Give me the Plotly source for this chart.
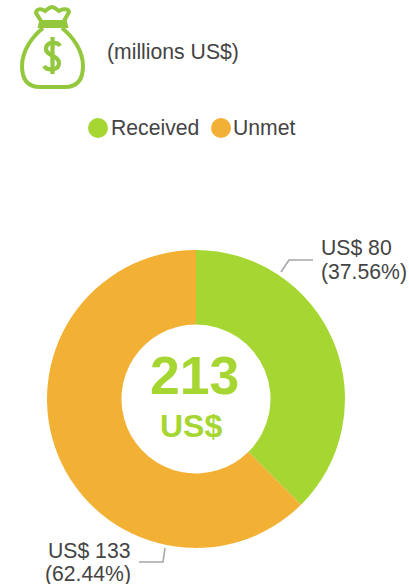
import plotly.graph_objects as go

W, H = 409, 584
categories = ["Received", "Unmet"]
values = [80, 133]
percents = ["37.56%", "62.44%"]
colors = ["#a5d631", "#f2b134"]
total = 213
subtitle = "(millions US$)"
unit = "US$"
TEXT = "#444444"
ICON = "#93c83e"
FONT = "Liberation Sans, Arial, sans-serif"


def px(x):
    return x / W


def py(y):
    return 1 - y / H


def path(d):
    out = []
    for tok in d.split():
        if "," in tok:
            a, b = tok.split(",")
            out.append(f"{px(float(a)):.5f},{py(float(b)):.5f}")
        else:
            out.append(tok)
    return " ".join(out)


fig = go.Figure(go.Pie(
    labels=categories, values=values, hole=0.5, sort=False, direction="clockwise",
    rotation=0, marker=dict(colors=colors, line=dict(width=0)),
    textinfo="none", hoverinfo="label+value", showlegend=False,
    domain=dict(x=[px(47), px(345)], y=[py(548), py(250)]),
))


def text(x, y, s, size=21.2, color=TEXT, anchor="left", bold=False):
    fig.add_annotation(
        x=px(x), y=py(y), xref="paper", yref="paper", text=f"<b>{s}</b>" if bold else s,
        showarrow=False, xanchor=anchor, yanchor="middle", align=anchor,
        font=dict(family=FONT, size=size, color=color), borderpad=0, borderwidth=0,
    )


def circle(cx, cy, r, color):
    fig.add_shape(type="circle", xref="paper", yref="paper",
                  x0=px(cx - r), x1=px(cx + r), y0=py(cy - r), y1=py(cy + r),
                  fillcolor=color, line=dict(width=0))


def stroke(d, color=ICON, width=4):
    fig.add_shape(type="path", xref="paper", yref="paper", path=path(d),
                  line=dict(color=color, width=width))


# header
text(107, 52, subtitle)
# legend
circle(98, 128, 10, colors[0])
text(111, 127, categories[0])
circle(221, 128, 10, colors[1])
text(233, 127, categories[1])
# centre
text(194, 375, str(total), size=53.5, color=colors[0], anchor="center", bold=True)
text(190.5, 426, unit, size=32, color=colors[0], anchor="center", bold=True)
# value labels
text(321, 248, f"US$ {values[0]}")
text(321, 272, f"({percents[0]})")
text(48, 550, f"US$ {values[1]}")
text(45, 574, f"({percents[1]})")
# leader lines
stroke("M 281,272 L 289,260 L 313,260", "#a6a6a6", 1.6)
stroke("M 165,548 L 163,562 L 139,562", "#a6a6a6", 1.6)
# money bag icon
stroke("M 43,28 C 33,36 22,50 22,66 C 22,80 28,87 40,87 L 65,87 C 77,87 83,80 83,66 "
       "C 83,50 72,36 62,28")
stroke("M 41,22 L 65,22 L 66,26 L 40,26 Z")
stroke("M 41,21 L 36,13 C 36,9 41,8 45,11 C 48,9 49,7 52,7 C 55,7 56,9 59,11 "
       "C 63,8 69,9 69,12 L 64,21")
stroke("M 60,46 C 58,42 47,41 46,48 C 45,56 59,55 59,63 C 59,71 47,71 44,66", width=4.2)
stroke("M 52.5,37 L 52.5,74", width=4.2)

fig.update_layout(
    width=W, height=H, autosize=False, margin=dict(l=0, r=0, t=0, b=0),
    paper_bgcolor="white", plot_bgcolor="white", showlegend=False,
)
fig.write_html("out.html", config=dict(displayModeBar=False),
               post_script="document.body.style.margin='0';document.body.style.overflow='hidden';")
